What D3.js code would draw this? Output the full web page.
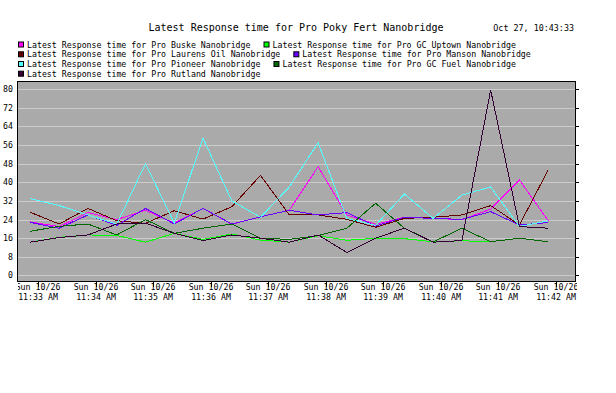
<!DOCTYPE html>
<html>
<head>
<meta charset="utf-8">
<script src="https://cdn.jsdelivr.net/npm/d3@7"></script>
<style>
body { margin: 0; background: #fff; }
text { font-family: "DejaVu Sans Mono", monospace; fill: #000; }
</style>
</head>
<body>
<svg id="chart" width="616" height="393"></svg>
<script>
// sample times (one sample every 30 s)
const times = ["11:32:52", "11:33:22", "11:33:52", "11:34:22", "11:34:52", "11:35:22", "11:35:52",
    "11:36:22", "11:36:52", "11:37:22", "11:37:52", "11:38:22", "11:38:52", "11:39:22",
    "11:39:52", "11:40:22", "11:40:52", "11:41:22", "11:41:52"];

const seriesNames = [
    "Latest Response time for Pro Buske Nanobridge",
    "Latest Response time for Pro GC Uptown Nanobridge",
    "Latest Response time for Pro Laurens Oil Nanobridge",
    "Latest Response time for Pro Manson Nanobridge",
    "Latest Response time for Pro Pioneer Nanobridge",
    "Latest Response time for Pro GC Fuel Nanobridge",
    "Latest Response time for Pro Rutland Nanobridge"
];
const seriesColors = ["#ff00ff", "#00ff00", "#660000", "#6a00ff", "#55ffff", "#006600", "#330033"];

const buske = [23, 21, 27, 24, 28, 22.5, 28.8, 22, 25.2, 28, 46.7, 26, 22, 25, 24.5, 24, 28.5, 41, 23.5];
const gcUptown = [14.3, 16.4, 17.4, 17.2, 14.3, 18.1, 15.5, 17.8, 15.2, 14.3, 17.1, 15.1, 16, 15.8, 14.5, 14.9, 14.5, 16, 14.5];
const laurensOil = [27.1, 22.1, 28.8, 23.5, 22.4, 27.8, 24.2, 29.5, 43, 26, 26, 24.1, 20.7, 24.5, 25, 26, 30, 21.7, 45.3];
const manson = [22.8, 20.3, 26, 21.5, 28.8, 22.1, 28.8, 22.1, 25.2, 28, 26, 27, 21.2, 25, 24.5, 24.1, 27.4, 21.7, 22.7];
const pioneer = [33, 30, 26, 22, 48, 22.5, 59, 32, 25, 38, 57, 24.5, 21.5, 35, 24.5, 34.5, 38, 21, 23.5];
const gcFuel = [19, 21.1, 22.1, 17.4, 24, 18.1, 20.3, 22.1, 16, 15.5, 17.1, 20.3, 31, 20.3, 14.4, 20.3, 14.5, 16, 14.5];
const rutland = [14.3, 16.3, 17.4, 22.1, 22.5, 18.1, 15, 17.4, 16, 14.3, 17.4, 9.9, 16, 20.3, 14.3, 15, 79.6, 21, 20.3];

const seriesValues = [buske, gcUptown, laurensOil, manson, pioneer, gcFuel, rutland];

const yTicks = [0, 8, 16, 24, 32, 40, 48, 56, 64, 72, 80];
const xTickTimes = ["11:33", "11:34", "11:35", "11:36", "11:37", "11:38", "11:39", "11:40", "11:41", "11:42"];
const dayLabel = "Sun 10/26";

const titleText = "Latest Response time for Pro Poky Fert Nanobridge";
const stampText = "Oct 27, 10:43:33";

const parseTime = d3.timeParse("%H:%M:%S");
const parseMinute = d3.timeParse("%H:%M");

const plotLeft = 17, plotRight = 576, plotTop = 81, plotBottom = 282;

const svg = d3.select("#chart");

const x = d3.scaleTime()
    .domain([parseTime("11:32:38"), parseTime("11:42:21")])
    .range([plotLeft, plotRight]);
const y = d3.scaleLinear()
    .domain([-2.8, 83.5])
    .range([plotBottom, plotTop]);

// title and time stamp
svg.append("text")
    .attr("x", 296).attr("y", 31)
    .attr("text-anchor", "middle")
    .style("font-size", "10px")
    .text(titleText);
svg.append("text")
    .attr("x", 574).attr("y", 31)
    .attr("text-anchor", "end")
    .style("font-size", "8.4px")
    .text(stampText);

// legend, two items per row
const legend = svg.append("g");
const rowY = [44.5, 54.3, 64, 73.7];
for (let i = 0; i < seriesNames.length; i++) {
    const row = Math.floor(i / 2);
    let lx = 18;
    if (i % 2 === 1) {
        const prev = legend.select("#leg" + (i - 1)).node();
        lx = 27 + prev.getComputedTextLength() + 13;
    }
    legend.append("rect")
        .attr("x", lx + 0.5).attr("y", rowY[row] - 2.5)
        .attr("width", 5).attr("height", 5)
        .attr("fill", seriesColors[i])
        .attr("stroke", "#000")
        .attr("stroke-width", 1);
    legend.append("text")
        .attr("id", "leg" + i)
        .attr("x", lx + 9).attr("y", rowY[row] + 3)
        .style("font-size", "8.25px")
        .text(seriesNames[i]);
}

// plot background
svg.append("rect")
    .attr("x", plotLeft).attr("y", plotTop)
    .attr("width", plotRight - plotLeft).attr("height", plotBottom - plotTop)
    .attr("fill", "#aaaaaa");

// horizontal grid
svg.append("g")
    .selectAll("line")
    .data(yTicks)
    .join("line")
    .attr("x1", plotLeft).attr("x2", plotRight)
    .attr("y1", d => Math.round(y(d)) + 0.5)
    .attr("y2", d => Math.round(y(d)) + 0.5)
    .attr("stroke", "#cccccc")
    .attr("stroke-width", 1);

// y labels on the left
svg.append("g")
    .selectAll("text")
    .data(yTicks)
    .join("text")
    .attr("x", 13)
    .attr("y", d => Math.round(y(d)) + 3)
    .attr("text-anchor", "end")
    .style("font-size", "8.25px")
    .text(d => d);

// short ticks on the right edge
svg.append("g")
    .selectAll("line")
    .data(yTicks)
    .join("line")
    .attr("x1", plotRight).attr("x2", plotRight + 3)
    .attr("y1", d => Math.round(y(d)) + 0.5)
    .attr("y2", d => Math.round(y(d)) + 0.5)
    .attr("stroke", "#000");

// series lines
const line = d3.line()
    .x((d, i) => x(parseTime(times[i])))
    .y(d => y(d));

const plotClip = svg.append("clipPath").attr("id", "plotClip");
plotClip.append("rect")
    .attr("x", plotLeft).attr("y", plotTop)
    .attr("width", plotRight - plotLeft).attr("height", plotBottom - plotTop);

const lines = svg.append("g").attr("clip-path", "url(#plotClip)");
seriesValues.forEach((vals, i) => {
    lines.append("path")
        .datum(vals)
        .attr("d", line)
        .attr("fill", "none")
        .attr("stroke", seriesColors[i])
        .attr("stroke-width", 1)
        .attr("shape-rendering", "crispEdges");
});

// frame
svg.append("rect")
    .attr("x", plotLeft + 0.5).attr("y", plotTop + 0.5)
    .attr("width", plotRight - plotLeft - 1).attr("height", plotBottom - plotTop - 1)
    .attr("fill", "none")
    .attr("stroke", "#000");

// x ticks and two line labels, clipped to the plot width
const labelClip = svg.append("clipPath").attr("id", "labelClip");
labelClip.append("rect")
    .attr("x", plotLeft + 1).attr("y", plotBottom)
    .attr("width", plotRight - plotLeft).attr("height", 30);

const xAxis = svg.append("g").attr("clip-path", "url(#labelClip)");
const xTicks = xAxis.selectAll("g")
    .data(xTickTimes)
    .join("g")
    .attr("transform", d => "translate(" + Math.round(x(parseMinute(d))) + ",0)");
xTicks.append("line")
    .attr("x1", 0.5).attr("x2", 0.5)
    .attr("y1", plotBottom).attr("y2", plotBottom + 5)
    .attr("stroke", "#000");
xTicks.append("text")
    .attr("y", 290)
    .attr("text-anchor", "middle")
    .style("font-size", "8.25px")
    .text(dayLabel);
xTicks.append("text")
    .attr("y", 300)
    .attr("text-anchor", "middle")
    .style("font-size", "8.25px")
    .text(d => {
        const [h, m] = d.split(":");
        return h + ":" + m + " AM";
    });
</script>
</body>
</html>
